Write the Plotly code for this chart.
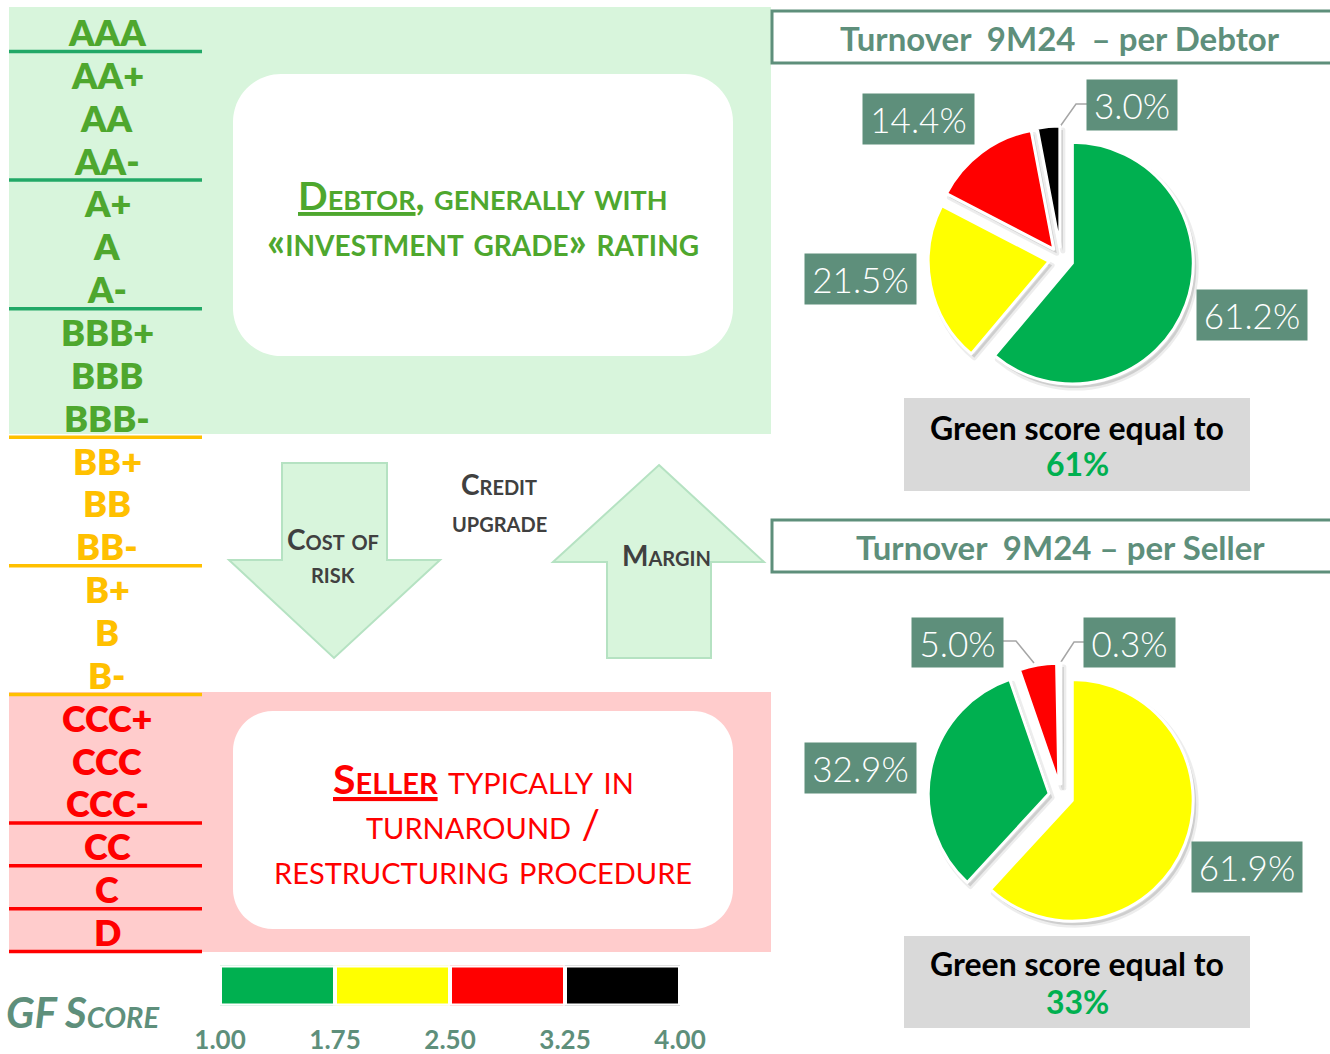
import plotly.graph_objects as go

W, H = 1330, 1054
def px(x): return x / W
def py(y): return 1 - y / H

FONT = "Lato"
TEAL = "#5e8f7b"
GREEN = "#00b050"; YELLOW = "#ffff00"; RED = "#ff0000"; BLACK = "#000000"
LIGHT_GREEN = "#d8f5dc"; PINK = "#ffcccc"

# ---------------- data ----------------
rating_groups = [["AAA"], ["AA+", "AA", "AA-"], ["A+", "A", "A-"], ["BBB+", "BBB", "BBB-"],
                 ["BB+", "BB", "BB-"], ["B+", "B", "B-"], ["CCC+", "CCC", "CCC-"],
                 ["CC"], ["C"], ["D"]]
group_text_colors = ["#4ea72e"] * 4 + ["#ffc000"] * 2 + ["#ff0000"] * 4
group_line_colors = ["#22a867"] * 3 + ["#ffc000"] * 3 + ["#ff0000"] * 4

score_ticks = [1.00, 1.75, 2.50, 3.25, 4.00]
score_colors = [GREEN, YELLOW, RED, BLACK]

debtor_bands = ["Green", "Yellow", "Red", "Black"]
debtor_values = [61.2, 21.5, 14.4, 3.0]
debtor_colors = [GREEN, YELLOW, RED, BLACK]
debtor_green = 61

seller_bands = ["Yellow", "Green", "Red", "Black"]
seller_values = [61.9, 32.9, 5.0, 0.3]
seller_colors = [YELLOW, GREEN, RED, BLACK]
seller_green = 33

# label box placement (layout) for each slice
debtor_label_pos = [(1252, 315, 110, 50), (860, 279, 111, 50), (918, 119, 111, 50), (1132, 105, 90, 50)]
seller_label_pos = [(1247, 867, 110, 50), (860, 768, 111, 50), (957, 642, 91, 49), (1129, 642, 91, 49)]

shapes = []
annotations = []

def rect(x0, y0, x1, y1, fill, line=None, lw=0, layer="below"):
    shapes.append(dict(type="rect", xref="paper", yref="paper", x0=px(x0), x1=px(x1),
                       y0=py(y1), y1=py(y0), fillcolor=fill, layer=layer,
                       line=dict(color=line or "rgba(0,0,0,0)", width=lw)))

def path(pts, fill=None, line=None, lw=1, closed=True):
    d = "M " + " L ".join(f"{px(x):.5f},{py(y):.5f}" for x, y in pts)
    if closed:
        d += " Z"
    shapes.append(dict(type="path", xref="paper", yref="paper", path=d, layer="below",
                       fillcolor=fill or "rgba(0,0,0,0)",
                       line=dict(color=line or "rgba(0,0,0,0)", width=lw)))

def rounded(x0, y0, x1, y1, r, fill):
    k = 0.5523 * r
    P = lambda x, y: f"{px(x):.5f},{py(y):.5f}"
    d = (f"M {P(x0 + r, y0)} L {P(x1 - r, y0)} C {P(x1 - r + k, y0)} {P(x1, y0 + r - k)} {P(x1, y0 + r)} "
         f"L {P(x1, y1 - r)} C {P(x1, y1 - r + k)} {P(x1 - r + k, y1)} {P(x1 - r, y1)} "
         f"L {P(x0 + r, y1)} C {P(x0 + r - k, y1)} {P(x0, y1 - r + k)} {P(x0, y1 - r)} "
         f"L {P(x0, y0 + r)} C {P(x0, y0 + r - k)} {P(x0 + r - k, y0)} {P(x0 + r, y0)} Z")
    shapes.append(dict(type="path", xref="paper", yref="paper", path=d, layer="below",
                       fillcolor=fill, line=dict(color="rgba(0,0,0,0)", width=0)))

def text(x, y, t, size, color, weight=400, variant="normal", style="normal", xanchor="center", **kw):
    annotations.append(dict(x=px(x), y=py(y), xref="paper", yref="paper", text=t, showarrow=False,
                            xanchor=xanchor, yanchor="middle",
                            font=dict(family=FONT, size=size, color=color, weight=weight,
                                      variant=variant, style=style), **kw))

# ---------------- backgrounds ----------------
rect(9, 7, 771, 434, LIGHT_GREEN)
rect(9, 692, 771, 952, PINK)
rounded(233, 74, 733, 356, 48, "white")
rounded(233, 711, 733, 929, 40, "white")

# ---------------- rating ladder ----------------
step = 42.86
i = 0
for g, grp in enumerate(rating_groups):
    for lab in grp:
        y = 32 + i * step
        text(107, y, lab, 36, group_text_colors[g], weight=800)
        i += 1
    ly = 32 + (i - 1) * step + 19.5
    shapes.append(dict(type="line", xref="paper", yref="paper", x0=px(9), x1=px(202),
                       y0=py(ly), y1=py(ly), layer="below",
                       line=dict(color=group_line_colors[g], width=3.5)))

# ---------------- box texts ----------------
text(483, 195, "<u>Debtor</u>, generally with", 39, "#4ea72e", weight=700, variant="small-caps")
text(483, 241, "«investment grade» rating", 40, "#4ea72e", weight=700, variant="small-caps")
text(483, 778, "<u><b>Seller</b></u> typically in", 41, RED, weight=400, variant="small-caps")
text(483, 823, "turnaround /", 41, RED, weight=400, variant="small-caps")
text(483, 868, "restructuring procedure", 41, RED, weight=400, variant="small-caps")

# ---------------- arrows ----------------
ARROW_LINE = "#b5e2c2"
path([(282, 463), (387, 463), (387, 560), (440, 560), (334, 658), (229, 560), (282, 560)],
     fill=LIGHT_GREEN, line=ARROW_LINE, lw=2)
path([(659, 465), (764, 562), (711, 562), (711, 658), (607, 658), (607, 562), (553, 562)],
     fill=LIGHT_GREEN, line=ARROW_LINE, lw=2)
DARK = "#404040"
text(333, 539, "Cost of", 28, DARK, weight=700, variant="small-caps")
text(333, 572, "risk", 28, DARK, weight=700, variant="small-caps")
text(499, 484, "Credit", 28, DARK, weight=700, variant="small-caps")
text(499, 520, "upgrade", 29, DARK, weight=700, variant="small-caps")
text(666, 555, "Margin", 28, DARK, weight=700, variant="small-caps")

# ---------------- GF score legend ----------------
text(4, 1012, "GF Score", 42, TEAL, weight=700, variant="small-caps", style="italic", xanchor="left")

# ---------------- right side panels ----------------
NB = "\u00a0"
rect(772, 11, 1345, 63, "white", TEAL, 3)
rect(772, 520, 1345, 572, "white", TEAL, 3)
text(1060, 38, f"Turnover{NB}{NB}9M24{NB}{NB}– per Debtor", 33, TEAL, weight=700)
text(1060, 547, f"Turnover{NB}{NB}9M24 – per Seller", 33, TEAL, weight=700)

rect(904, 398, 1250, 491, "#d9d9d9")
rect(904, 936, 1250, 1028, "#d9d9d9")
text(1077, 427, "Green score equal to", 32, "black", weight=700)
text(1077, 464, f"{debtor_green}%", 32, GREEN, weight=700)
text(1077, 964, "Green score equal to", 32, "black", weight=700)
text(1077, 1001, f"{seller_green}%", 32, GREEN, weight=700)

# leader lines
LEAD = "#a6a6a6"
path([(1087, 104), (1076, 104), (1059, 128)], line=LEAD, lw=1.5, closed=False)
path([(1003, 641), (1016, 641), (1034, 663)], line=LEAD, lw=1.5, closed=False)
path([(1084, 642), (1074, 642), (1059, 665)], line=LEAD, lw=1.5, closed=False)

for vals, pos in ((debtor_values, debtor_label_pos), (seller_values, seller_label_pos)):
    for v, (cx, cy, w, h) in zip(vals, pos):
        annotations.append(dict(x=px(cx), y=py(cy), xref="paper", yref="paper", text=f"{v:.1f}%",
                                showarrow=False, bgcolor=TEAL, width=w, height=h, borderpad=0,
                                xanchor="center", yanchor="middle",
                                font=dict(family=FONT, size=35, color="white", weight=300)))

# ---------------- traces ----------------
fig = go.Figure()

def add_pie(values, labels, colors, cx, cy, name):
    half = 133
    # soft shadow
    fig.add_trace(go.Pie(values=values, labels=labels, sort=False, direction="clockwise", rotation=0,
                         pull=0.1, textinfo="none", hoverinfo="skip", showlegend=False, automargin=False,
                         marker=dict(colors=["rgba(0,0,0,0.13)"] * len(values),
                                     line=dict(color="rgba(0,0,0,0.07)", width=5)),
                         domain=dict(x=[px(cx - half + 3), px(cx + half + 3)],
                                     y=[py(cy + half + 4), py(cy - half + 4)])))
    fig.add_trace(go.Pie(values=values, labels=labels, sort=False, direction="clockwise", rotation=0,
                         pull=0.1, textinfo="none", hoverinfo="label+value", showlegend=False, name=name,
                         automargin=False,
                         marker=dict(colors=colors, line=dict(color="white", width=3)),
                         domain=dict(x=[px(cx - half), px(cx + half)],
                                     y=[py(cy + half), py(cy - half)])))

add_pie(debtor_values, debtor_bands, debtor_colors, 1061, 259, "per Debtor")
add_pie(seller_values, seller_bands, seller_colors, 1061, 796, "per Seller")

widths = [score_ticks[k + 1] - score_ticks[k] for k in range(len(score_colors))]
fig.add_trace(go.Bar(x=widths, base=score_ticks[:-1], y=[0] * len(widths), orientation="h", width=1,
                     marker=dict(color=score_colors, line=dict(color="white", width=4)),
                     showlegend=False, hoverinfo="skip"))

fig.update_layout(
    template="none",
    width=W, height=H, margin=dict(l=0, r=0, t=0, b=0, pad=0, autoexpand=False),
    paper_bgcolor="white", plot_bgcolor="rgba(0,0,0,0)",
    shapes=shapes, annotations=annotations, showlegend=False,
    xaxis=dict(domain=[px(220), px(680)], range=[1, 4], tickvals=score_ticks, automargin=False,
               ticktext=[f"{t:.2f}" for t in score_ticks], showgrid=False, zeroline=False,
               showline=False, ticks="", ticklabelstandoff=16, fixedrange=True,
               tickfont=dict(family=FONT, size=26, color=TEAL, weight=700)),
    yaxis=dict(domain=[py(1005.5), py(965.5)], range=[-0.5, 0.5], visible=False, fixedrange=True,
               automargin=False),
)

fig.write_html("out.html", config={"displayModeBar": False},
               post_script="document.body.style.margin='0';document.body.style.overflow='hidden';")
